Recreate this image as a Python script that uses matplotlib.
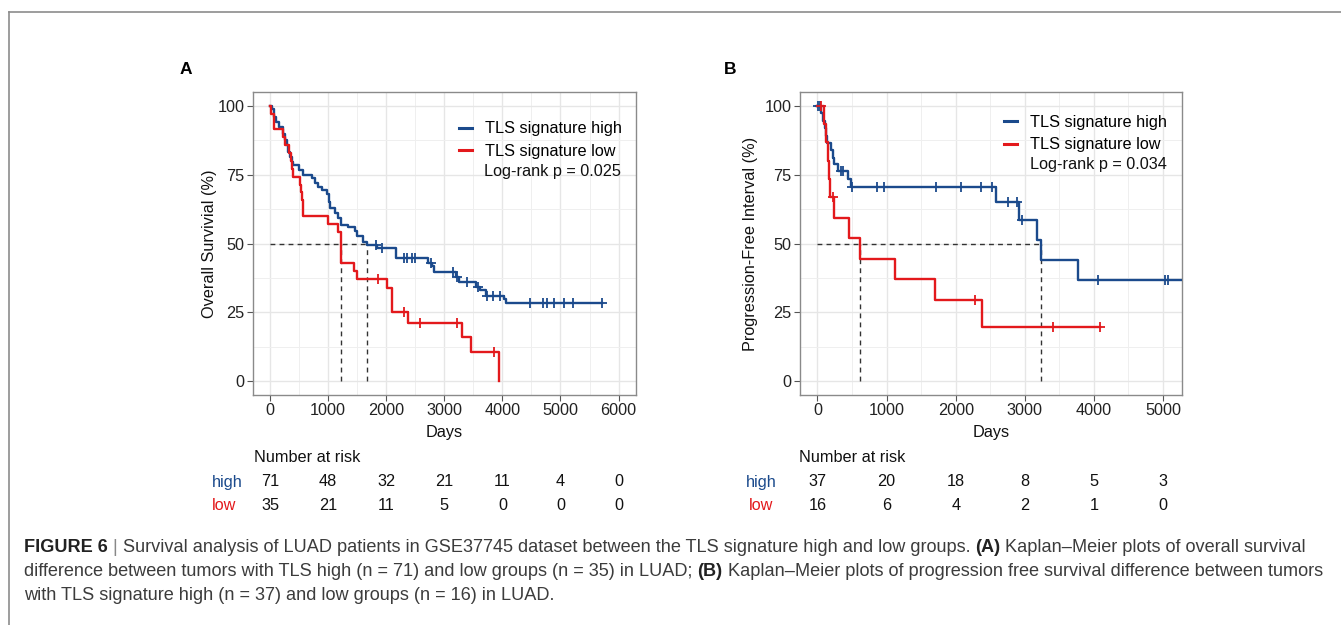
import numpy as np
import matplotlib.pyplot as plt
from matplotlib.lines import Line2D
from matplotlib import transforms

plt.rcParams['font.family'] = ['Liberation Sans', 'DejaVu Sans']

BLUE = '#1B4A8C'
RED = '#E3191C'

# ---- panel A: overall survival (days, %) ----
os_high_t = [0, 29, 69, 103, 161, 229, 258, 287, 316, 344, 373, 402, 505, 574, 717, 774, 832,
             889, 987, 1010, 1033, 1119, 1176, 1216, 1348, 1463, 1503, 1606, 1675, 1836, 2163,
             2725, 2780, 2830, 3200, 3259, 3545, 3614, 3712, 4033, 4062, 5709]
os_high_s = [100, 98.8, 95.8, 94.0, 92.2, 89.8, 87.4, 85.6, 83.2, 81.4, 79.6, 78.4, 76.6, 74.8,
             73.6, 71.8, 70.6, 69.4, 68.0, 65.2, 62.8, 61.0, 59.2, 56.8, 56.0, 54.4, 52.6, 50.7,
             49.3, 48.4, 44.8, 43.0, 41.8, 39.7, 38.0, 35.9, 34.1, 33.1, 31.1, 29.9, 28.4, 28.4]
os_high_cens = [1824, 1922, 2300, 2360, 2440, 2500, 2766, 3155, 3224, 3385, 3586, 3741, 3844,
                3959, 4475, 4704, 4762, 4888, 5060, 5209, 5709]

os_low_t = [0, 25, 60, 230, 258, 330, 356, 375, 390, 516, 530, 545, 560, 574, 1004, 1176, 1216,
            1446, 1492, 2008, 2094, 2380, 3310, 3460, 3945]
os_low_s = [100, 97.1, 91.4, 88.6, 85.7, 82.9, 80.0, 77.1, 74.3, 71.4, 68.6, 65.7, 62.9, 60.0,
            57.1, 54.3, 42.9, 40.0, 37.1, 33.9, 25.1, 21.2, 16.1, 10.7, 0]
os_low_cens = [1865, 2306, 2582, 3215, 3850]

os_ticks = [0, 1000, 2000, 3000, 4000, 5000, 6000]
os_risk_high = [71, 48, 32, 21, 11, 4, 0]
os_risk_low = [35, 21, 11, 5, 0, 0, 0]

# ---- panel B: progression-free interval ----
pfi_high_t = [0, 53, 77, 111, 126, 140, 198, 222, 246, 295, 440, 488, 2589, 2913, 3179, 3232,
              3773, 5400]
pfi_high_s = [100, 97.3, 94.6, 91.9, 89.2, 86.5, 83.8, 81.1, 79.0, 76.3, 73.5, 70.4, 64.9, 58.6,
              51.4, 44.0, 36.7, 36.7]
pfi_high_cens = [5, 30, 343, 367, 502, 865, 961, 1720, 2082, 2372, 2527, 2758, 2894, 2966,
                 4063, 5029, 5077]

pfi_low_t = [0, 92, 126, 150, 160, 174, 237, 454, 609, 1116, 1696, 2382, 4087]
pfi_low_s = [100, 93.3, 86.7, 80.0, 73.3, 66.7, 59.3, 51.9, 44.4, 37.0, 29.6, 19.8, 19.8]
pfi_low_cens = [53, 222, 2275, 3401, 4087]

pfi_ticks = [0, 1000, 2000, 3000, 4000, 5000]
pfi_risk_high = [37, 20, 18, 8, 5, 3]
pfi_risk_low = [16, 6, 4, 2, 1, 0]


def surv_at(t, s, x):
    idx = np.searchsorted(t, x, side='right') - 1
    return np.asarray(s)[idx]


def median_time(t, s):
    s = np.asarray(s)
    return np.asarray(t)[np.argmax(s <= 50)]


fig = plt.figure(figsize=(13.41, 6.25), dpi=100)
W, H = 1341, 625

# page frame
fig.add_artist(Line2D([9 / W, 1], [1 - 12 / H, 1 - 12 / H], color='#8c8c8c', lw=1.2))
fig.add_artist(Line2D([9 / W, 9 / W], [0, 1 - 12 / H], color='#8c8c8c', lw=1.2))


def km_panel(rect, curves, ticks, xlim, ylabel, pval, leg_xy, p_xy, letter, letter_x,
             risk, risk_label_x, risk_ha, nrisk_x):
    ax = fig.add_axes(rect)
    for t, s, cens, col in curves:
        ax.step(t, s, where='post', color=col, lw=1.7, zorder=3)
        ax.plot(cens, surv_at(t, s, cens), '+', color=col, ms=7, mew=1.3, zorder=4)
    meds = [median_time(t, s) for t, s, _, _ in curves]
    ax.plot([0, max(meds)], [50, 50], ls=(0, (3.5, 3)), color='#333333', lw=1.0, zorder=2)
    for m in meds:
        ax.plot([m, m], [0, 50], ls=(0, (3.5, 3)), color='#333333', lw=1.0, zorder=2)

    ax.set_xlim(*xlim)
    ax.set_ylim(-5, 105)
    ax.set_xticks(ticks)
    ax.set_yticks([0, 25, 50, 75, 100])
    ax.set_xticks(np.array(ticks[:-1]) + 500, minor=True)
    ax.set_yticks([12.5, 37.5, 62.5, 87.5], minor=True)
    ax.grid(True, which='major', color='#e6e6e6', lw=1.0)
    ax.grid(True, which='minor', color='#efefef', lw=0.7)
    ax.set_axisbelow(True)
    for sp in ax.spines.values():
        sp.set_color('#8a8a8a')
        sp.set_linewidth(1.0)
    ax.tick_params(which='major', length=4, color='#555555', labelsize=11.7,
                   labelcolor='#222222', pad=2)
    ax.tick_params(which='minor', length=0)
    ax.set_xlabel('Days', fontsize=11.7, color='#111111')
    ax.set_ylabel(ylabel, fontsize=11.7, color='#111111')
    ax.xaxis.set_label_coords(0.5, -0.10)

    handles = [Line2D([], [], color=BLUE, lw=2.2), Line2D([], [], color=RED, lw=2.2)]
    ax.legend(handles, ['TLS signature high', 'TLS signature low'], loc='upper left',
              bbox_to_anchor=leg_xy, frameon=False, fontsize=11.7, handlelength=0.8,
              handletextpad=0.8, labelspacing=0.45, borderaxespad=0)
    ax.text(p_xy[0], p_xy[1], f'Log-rank p = {pval}', transform=ax.transAxes,
            fontsize=11.7, color='#111111', va='center', ha='left')

    fig.text(letter_x / W, 1 - 70 / H, letter, fontsize=12.5, fontweight='bold', ha='center',
             va='center')

    tr = transforms.blended_transform_factory(ax.transData, fig.transFigure)
    fig.text(nrisk_x / W, 1 - 457 / H, 'Number at risk', fontsize=11.7, va='center', ha='left',
             color='#111111')
    for row, (name, col, vals) in enumerate(risk):
        yy = 1 - (482 + 23 * row) / H
        fig.text(risk_label_x / W, yy, name, color=col, fontsize=11.7, va='center', ha=risk_ha)
        for tk, v in zip(ticks, vals):
            fig.text(tk, yy, str(v), transform=tr, fontsize=11.7, va='center', ha='center',
                     color='#111111')
    return ax


axA = km_panel([253 / W, 1 - 395 / H, 383 / W, 303 / H],
               [(os_high_t, os_high_s, os_high_cens, BLUE),
                (os_low_t, os_low_s, os_low_cens, RED)],
               os_ticks, (-293, 6300), 'Overall Survivial (%)', '0.025', (0.52, 0.925),
               (0.603, 0.736), 'A', 186,
               [('high', BLUE, os_risk_high), ('low', RED, os_risk_low)], 212, 'left', 254)
axA.yaxis.set_label_coords(-0.094, 0.5)

axB = km_panel([800 / W, 1 - 395 / H, 382 / W, 303 / H],
               [(pfi_high_t, pfi_high_s, pfi_high_cens, BLUE),
                (pfi_low_t, pfi_low_s, pfi_low_cens, RED)],
               pfi_ticks, (-253, 5275), 'Progression-Free Interval (%)', '0.034', (0.517, 0.945),
               (0.602, 0.762), 'B', 730,
               [('high', BLUE, pfi_risk_high), ('low', RED, pfi_risk_low)], 761, 'center', 799)
axB.yaxis.set_label_coords(-0.109, 0.5)

# ---- caption with bold pieces ----
cap_size = 13.1
renderer = fig.canvas.get_renderer()
space = 0.278 * cap_size * 100 / 72 / W


def rich_line(x, y, parts):
    for s, bold, col in parts:
        t = fig.text(x, y, s, fontsize=cap_size, fontweight='bold' if bold else 'normal',
                     color=col, va='center', ha='left')
        bb = t.get_window_extent(renderer)
        x += bb.width / W + space


GREY = '#3c3c3c'
rich_line(24 / W, 1 - 547 / H, [
    ('FIGURE 6', True, '#222222'), ('|', False, '#888888'),
    ('Survival analysis of LUAD patients in GSE37745 dataset between the TLS signature high '
     'and low groups.', False, GREY),
    ('(A)', True, '#222222'), ('Kaplan–Meier plots of overall survival', False, GREY)])
rich_line(24 / W, 1 - 571 / H, [
    ('difference between tumors with TLS high (n = 71) and low groups (n = 35) in LUAD;', False,
     GREY),
    ('(B)', True, '#222222'),
    ('Kaplan–Meier plots of progression free survival difference between tumors', False, GREY)])
rich_line(24 / W, 1 - 595 / H, [
    ('with TLS signature high (n = 37) and low groups (n = 16) in LUAD.', False, GREY)])

fig.savefig('out.png', dpi=100)
